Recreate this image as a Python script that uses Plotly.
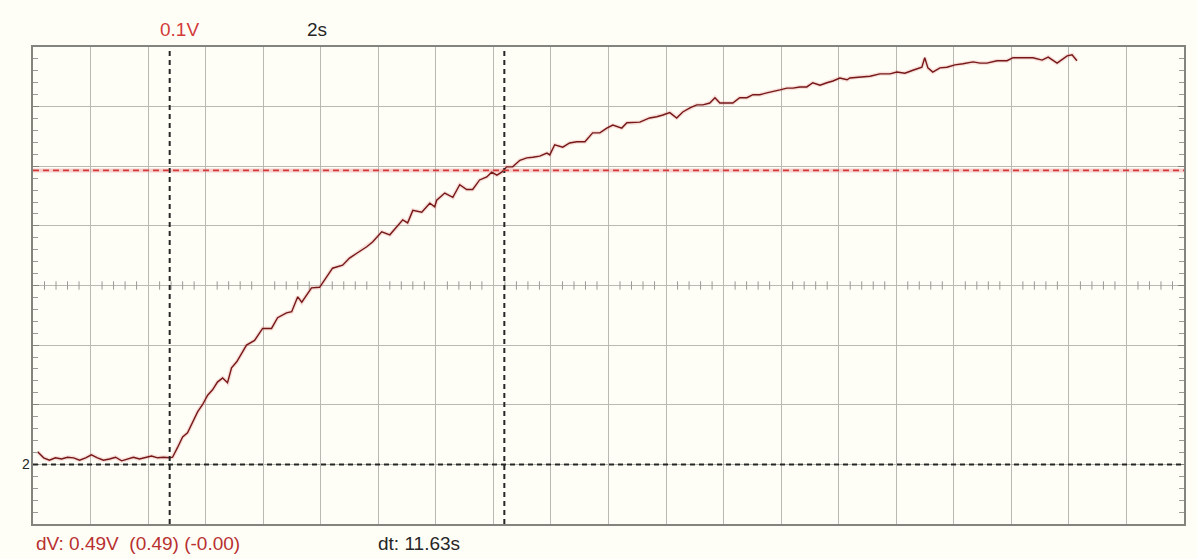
import numpy as np
import plotly.graph_objects as go

# Oscilloscope capture: channel 2 step response, 2 s/div, 0.1 V/div
time_s = [
    0.16, 0.37, 0.57, 0.78, 0.99, 1.20, 1.41, 1.62, 1.83, 2.03, 2.24, 2.45, 2.66, 2.87,
    3.08, 3.29, 3.49, 3.70, 3.91, 4.12, 4.33, 4.54, 4.75,
    4.85, 5.02, 5.20, 5.37, 5.55, 5.72, 5.89, 6.07, 6.24, 6.41, 6.59, 6.76, 6.90, 7.08,
    7.42, 7.70, 7.98, 8.29, 8.50, 8.81, 8.99, 9.20, 9.34, 9.68, 9.96, 10.14, 10.41, 10.76,
    11.00, 11.28, 11.60, 11.80, 12.12, 12.40, 12.64, 12.85, 13.02, 13.20, 13.51, 13.79,
    13.96, 14.03, 14.31, 14.59, 14.83, 15.07, 15.28, 15.52, 15.77, 15.94, 16.12, 16.29,
    16.46, 16.67, 16.92, 17.16, 17.37, 17.61, 17.86, 17.96, 18.13, 18.41, 18.65, 18.90,
    19.18, 19.45, 19.70, 19.94, 20.15, 20.46, 20.64, 20.91, 21.09, 21.43, 21.68, 21.89,
    22.13, 22.37, 22.58, 22.83, 23.07, 23.28, 23.52, 23.70, 23.87, 24.11, 24.32, 24.56,
    24.81, 25.02, 25.26, 25.50, 25.71, 25.96, 26.20, 26.41, 26.65, 26.89, 27.10, 27.35,
    27.59, 27.80, 28.04, 28.29, 28.39, 28.74, 29.09, 29.43, 29.78, 30.02, 30.30, 30.58,
    30.89, 30.99, 31.10, 31.27, 31.52, 31.76, 32.04, 32.32, 32.67, 32.91, 33.15, 33.50,
    33.85, 34.06, 34.41, 34.75, 35.07, 35.28, 35.59, 35.94, 36.11, 36.28,
]
volts = [
    0.021, 0.011, 0.007, 0.011, 0.009, 0.012, 0.011, 0.007, 0.011, 0.016, 0.011, 0.007,
    0.009, 0.012, 0.006, 0.009, 0.012, 0.009, 0.011, 0.014, 0.011, 0.012, 0.011,
    0.012, 0.028, 0.046, 0.053, 0.071, 0.088, 0.100, 0.116, 0.125, 0.138, 0.145, 0.137,
    0.162, 0.172,
    0.200, 0.208, 0.228, 0.228, 0.246, 0.254, 0.256, 0.281, 0.272, 0.296, 0.297, 0.309,
    0.329, 0.334, 0.346, 0.355, 0.365, 0.373, 0.390, 0.385, 0.398, 0.410, 0.405, 0.426,
    0.423, 0.438, 0.432, 0.443, 0.455, 0.448, 0.469, 0.461, 0.461, 0.477, 0.482, 0.490,
    0.485, 0.490, 0.499, 0.499, 0.510, 0.514, 0.515, 0.517, 0.522, 0.519, 0.536, 0.532,
    0.539, 0.541, 0.541, 0.556, 0.556, 0.564, 0.569, 0.564, 0.573, 0.573, 0.574, 0.581,
    0.583, 0.586, 0.590, 0.581, 0.591, 0.598, 0.603, 0.603, 0.606, 0.615, 0.606, 0.606,
    0.606, 0.615, 0.615, 0.620, 0.620, 0.623, 0.625, 0.628, 0.631, 0.631, 0.633, 0.633,
    0.640, 0.636, 0.640, 0.643, 0.648, 0.645, 0.648, 0.650, 0.651, 0.655, 0.655, 0.658,
    0.656, 0.661, 0.666, 0.682, 0.665, 0.658, 0.665, 0.666, 0.670, 0.672, 0.675, 0.673,
    0.673, 0.677, 0.677, 0.682, 0.682, 0.682, 0.678, 0.683, 0.673, 0.685, 0.687, 0.677,
]

# Cursor settings
t_cursor_1 = 4.75
dt_cursor = 11.63
v_cursor_low = 0.0
v_cursor_high = 0.493

volt_div = "0.1V"
time_div = "2s"
channel_label = "2"

X_RANGE = [0, 40]
Y_RANGE = [-0.1, 0.7]

BG = "#fefef7"
GRID = "#b9b9b4"
FRAME = "#84847f"
TRACE = "#761818"
RED = "#d23a3a"
DARK = "#262626"
FONT = "Liberation Sans"

fig = go.Figure()

# minor ticks along the centre horizontal graticule line
centre_ticks = [t for t in np.arange(X_RANGE[0], X_RANGE[1] + 1e-9, 0.4)
                if abs(t / 2 - round(t / 2)) > 1e-6]
fig.add_trace(go.Scatter(
    x=centre_ticks, y=[0.3] * len(centre_ticks), mode="markers",
    marker=dict(symbol="line-ns", size=6, line=dict(width=1, color="#9a9a96")),
    hoverinfo="skip", showlegend=False,
))

# faint halo around the trace
fig.add_trace(go.Scatter(
    x=time_s, y=volts, mode="lines",
    line=dict(color="rgba(225,110,110,0.22)", width=4),
    hoverinfo="skip", showlegend=False,
))
fig.add_trace(go.Scatter(
    x=time_s, y=volts, mode="lines",
    line=dict(color=TRACE, width=1.4),
    showlegend=False,
))

t_cursor_2 = t_cursor_1 + dt_cursor
for t in (t_cursor_1, t_cursor_2):
    fig.add_shape(type="line", x0=t, x1=t, y0=Y_RANGE[0], y1=Y_RANGE[1],
                  line=dict(color=DARK, width=2, dash="5px,4px"), layer="above")
fig.add_shape(type="line", x0=X_RANGE[0], x1=X_RANGE[1], y0=v_cursor_low, y1=v_cursor_low,
              line=dict(color=DARK, width=2, dash="5px,4px"), layer="above")
fig.add_shape(type="line", x0=X_RANGE[0], x1=X_RANGE[1], y0=v_cursor_high, y1=v_cursor_high,
              line=dict(color="rgba(230,120,120,0.35)", width=4), layer="below")
fig.add_shape(type="line", x0=X_RANGE[0], x1=X_RANGE[1], y0=v_cursor_high, y1=v_cursor_high,
              line=dict(color=RED, width=1.6, dash="6px,4px"), layer="above")

dv = v_cursor_high - v_cursor_low
dv_text = f"dV: {dv:.2f}V  ({dv:.2f}) (-0.00)"
dt_text = f"dt: {dt_cursor:.2f}s"

annotations = [
    dict(text=volt_div, x=0.1277, y=1.036, xref="paper", yref="paper",
         xanchor="center", yanchor="middle", showarrow=False,
         font=dict(family=FONT, size=19, color=RED)),
    dict(text=time_div, x=0.2468, y=1.036, xref="paper", yref="paper",
         xanchor="center", yanchor="middle", showarrow=False,
         font=dict(family=FONT, size=19, color=DARK)),
    dict(text=dv_text, x=0.0005, y=-0.04, xref="paper", yref="paper",
         xanchor="left", yanchor="middle", showarrow=False,
         font=dict(family=FONT, size=19, color="#b83030")),
    dict(text=dt_text, x=0.298, y=-0.04, xref="paper", yref="paper",
         xanchor="left", yanchor="middle", showarrow=False,
         font=dict(family=FONT, size=19, color=DARK)),
    dict(text=channel_label, x=0, y=v_cursor_low, xref="paper", yref="y",
         xanchor="right", yanchor="middle", xshift=-1, showarrow=False,
         font=dict(family=FONT, size=14, color=DARK)),
]

fig.update_layout(
    width=1197, height=559,
    margin=dict(l=33, r=13, t=47, b=35),
    paper_bgcolor=BG, plot_bgcolor=BG,
    showlegend=False,
    annotations=annotations,
    xaxis=dict(range=X_RANGE, dtick=2, tick0=0, showgrid=True, gridcolor=GRID,
               gridwidth=1, showticklabels=False, ticks="", zeroline=False,
               showline=True, linecolor=FRAME, linewidth=2, mirror=True,
               fixedrange=True),
    yaxis=dict(range=Y_RANGE, dtick=0.1, tick0=0, showgrid=True, gridcolor=GRID,
               gridwidth=1, showticklabels=False, ticks="inside", ticklen=6,
               tickcolor=FRAME, zeroline=False, showline=True, linecolor=FRAME,
               linewidth=2, mirror="ticks", fixedrange=True,
               minor=dict(dtick=0.02, ticks="inside", ticklen=5,
                          tickcolor="#9a9a96", showgrid=False)),
)

fig.write_html("out.html")
